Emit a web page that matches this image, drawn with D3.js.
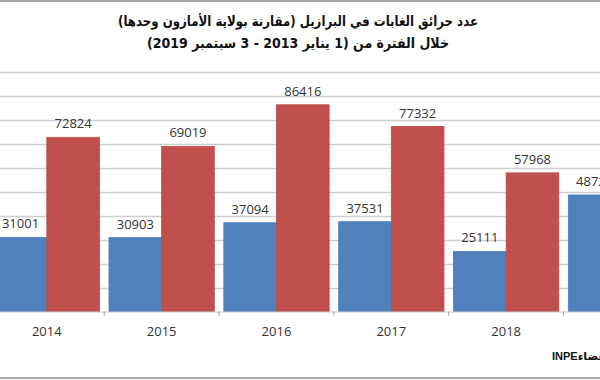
<!DOCTYPE html>
<html>
<head>
<meta charset="utf-8">
<script src="https://cdn.jsdelivr.net/npm/d3@7"></script>
<style>
  html, body { margin: 0; padding: 0; background: #fff; }
  svg { display: block; }
</style>
</head>
<body>
<div id="chart"></div>
<script>
// ---- data ----
const years = ["2014", "2015", "2016", "2017", "2018", "2019"];
const seriesBlue = [31001, 30903, 37094, 37531, 25111, 48724];
const seriesRed = [72824, 69019, 86416, 77332, 57968, null];
const blueLabels = ["31001", "30903", "37094", "37531", "25111", "48724"];
const redLabels = ["72824", "69019", "86416", "77332", "57968", ""];
const yTicks = [0, 10000, 20000, 30000, 40000, 50000, 60000, 70000, 80000, 90000, 100000];
const titleLines = [
  "عدد حرائق الغابات في البرازيل (مقارنة بولاية الأمازون وحدها)",
  "خلال الفترة من (1 يناير 2013 - 3 سبتمبر 2019)"
];
const sourceText = "المصدر: وكالة الفضاءINPE";

// ---- layout ----
const W = 600, H = 380;
const svg = d3.select("#chart").append("svg")
  .attr("width", W).attr("height", H);

svg.append("rect").attr("width", W).attr("height", H).attr("fill", "#fff");

const y = d3.scaleLinear().domain([0, 100000]).range([311.5, 72.3]);
const x0 = d3.scaleBand().domain(years).range([-10.6, 678.4])
  .paddingInner(0.083).paddingOuter(0.0415);
const x1 = d3.scaleBand().domain(["blue", "red"]).range([0, x0.bandwidth()]);

// gridlines
svg.append("g").selectAll("line").data(yTicks.slice(1)).join("line")
  .attr("x1", 0).attr("x2", W)
  .attr("y1", d => Math.round(y(d)) + 0.5).attr("y2", d => Math.round(y(d)) + 0.5)
  .attr("stroke", "#cfcfcf").attr("stroke-width", 1.3);

// bars
const groups = svg.append("g").selectAll("g").data(years).join("g")
  .attr("transform", d => `translate(${x0(d)},0)`);

const rows = years.map((yr, i) => [
  { key: "blue", v: seriesBlue[i], lab: blueLabels[i], fill: "#4F81BD", stroke: "#4A7EBB" },
  { key: "red", v: seriesRed[i], lab: redLabels[i], fill: "#C0504D", stroke: "#BE4B48" }
]);

groups.each(function(d, i) {
  const g = d3.select(this);
  const items = rows[i].filter(r => r.v != null);
  g.selectAll("rect").data(items).join("rect")
    .attr("x", r => x1(r.key))
    .attr("width", x1.bandwidth())
    .attr("y", r => y(r.v))
    .attr("height", r => y(0) - y(r.v))
    .attr("fill", r => r.fill)
    .attr("stroke", r => r.stroke).attr("stroke-width", 0.8);
  g.selectAll("text").data(items).join("text")
    .attr("x", r => x1(r.key) + x1.bandwidth() / 2)
    .attr("y", r => y(r.v) - 9)
    .attr("text-anchor", "middle")
    .attr("font-family", "'Open Sans', 'Liberation Sans', sans-serif")
    .attr("font-size", 13)
    .attr("fill", "#333")
    .text(r => r.lab);
});

// x axis
const xAxisG = svg.append("g").attr("transform", `translate(0,${y(0)})`);
xAxisG.append("line").attr("x1", 0).attr("x2", W).attr("y1", 0.5).attr("y2", 0.5)
  .attr("stroke", "#c8c8c8");
const boundaries = years.map(yr => x0(yr) - x0.step() * x0.paddingInner() / 2);
xAxisG.selectAll("line.tick").data(boundaries).join("line").attr("class", "tick")
  .attr("x1", d => d).attr("x2", d => d).attr("y1", 0).attr("y2", 4)
  .attr("stroke", "#9a9a9a");
xAxisG.selectAll("text").data(years).join("text")
  .attr("x", d => x0(d) + x0.bandwidth() / 2)
  .attr("y", 24.5)
  .attr("text-anchor", "middle")
  .attr("font-family", "'Open Sans', 'Liberation Sans', sans-serif")
  .attr("font-size", 13)
  .attr("fill", "#333")
  .text(d => d);

// title
const titleWidths = [360, 302];
svg.append("g").selectAll("text").data(titleLines).join("text")
  .attr("x", 298).attr("y", (d, i) => 26 + i * 22)
  .attr("text-anchor", "middle")
  .attr("direction", "rtl")
  .attr("font-family", "'DejaVu Sans', sans-serif")
  .attr("font-weight", "bold")
  .attr("font-size", 14)
  .attr("textLength", (d, i) => titleWidths[i])
  .attr("lengthAdjust", "spacingAndGlyphs")
  .attr("fill", "#111")
  .text(d => d);

// source
svg.append("text")
  .attr("x", 552).attr("y", 360)
  .attr("direction", "rtl")
  .attr("text-anchor", "end")
  .attr("font-family", "'Liberation Sans', 'DejaVu Sans', sans-serif")
  .attr("font-size", 11)
  .attr("font-weight", "bold")
  .attr("fill", "#111")
  .text(sourceText);

// frame lines (top & bottom)
svg.append("line").attr("x1", 0).attr("x2", W).attr("y1", 1).attr("y2", 1)
  .attr("stroke", "#a6a6a6").attr("stroke-width", 2);
svg.append("line").attr("x1", 0).attr("x2", W).attr("y1", 378).attr("y2", 378)
  .attr("stroke", "#a6a6a6").attr("stroke-width", 2);
</script>
</body>
</html>
